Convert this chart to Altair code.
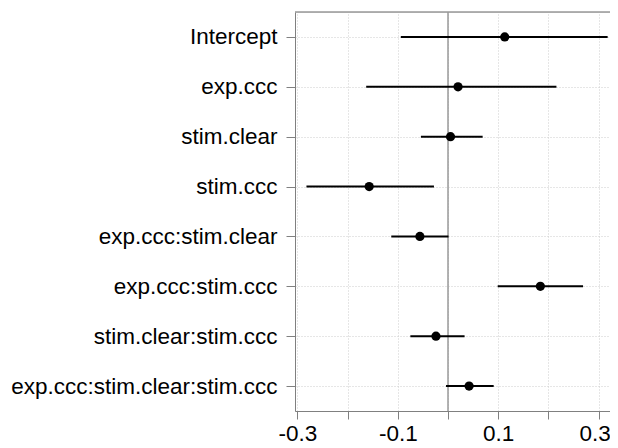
import altair as alt
import pandas as pd

terms = ["Intercept", "exp.ccc", "stim.clear", "stim.ccc", "exp.ccc:stim.clear",
         "exp.ccc:stim.ccc", "stim.clear:stim.ccc", "exp.ccc:stim.clear:stim.ccc"]
estimate = [0.113, 0.020, 0.005, -0.157, -0.056, 0.184, -0.024, 0.042]
lower = [-0.094, -0.163, -0.054, -0.282, -0.113, 0.099, -0.075, -0.004]
upper = [0.318, 0.216, 0.069, -0.028, 0.001, 0.269, 0.033, 0.091]
tick_values = [-0.3, -0.2, -0.1, 0.0, 0.1, 0.2, 0.3]

df = pd.DataFrame({"term": terms, "est": estimate, "lo": lower, "hi": upper})

W, H = 315, 399
xscale = alt.Scale(domain=[-0.3048, 0.3227], nice=False, zero=False)
yscale = alt.Scale(type="point", domain=terms, padding=0.5)

label_expr = ("abs(round(datum.value*10)) % 2 == 1 ? "
              "(datum.value < 0 ? '-' : '') + format(abs(datum.value), '.1f') : ''")

x_axis = alt.Axis(values=tick_values, labelExpr=label_expr, title=None, grid=True,
                  gridDash=[1, 2], gridColor="#cccccc", domainColor="#808080",
                  tickColor="#808080", tickSize=8, labelFontSize=22.5, labelColor="black",
                  labelPadding=21, labelFlush=False, labelBaseline="alphabetic",
                  labelOverlap=False,
                  labelOffset={"condition": {"test": "datum.value > 0.25", "value": -4},
                               "value": 0})
y_axis = alt.Axis(title=None, grid=True, gridDash=[1, 2], gridColor="#cccccc",
                  domainColor="#808080", tickColor="#808080", tickSize=9,
                  labelFontSize=22.5, labelColor="black", labelPadding=9,
                  labelLimit=500)

base = alt.Chart(df)

zero = alt.Chart(pd.DataFrame({"z": [0.0]})).mark_rule(color="#999999", strokeWidth=1.5).encode(
    x=alt.X("z:Q", scale=xscale, axis=x_axis)
)
top = alt.Chart(pd.DataFrame({"z": [0.0]})).mark_rule(color="#999999", strokeWidth=1.5).encode(
    x=alt.value(0), x2=alt.value(W), y=alt.value(0)
)
bars = base.mark_rule(color="black", strokeWidth=2).encode(
    x=alt.X("lo:Q", scale=xscale, axis=x_axis),
    x2="hi:Q",
    y=alt.Y("term:N", scale=yscale, axis=y_axis, sort=terms),
)
pts = base.mark_circle(color="black", size=85, opacity=1).encode(
    x=alt.X("est:Q", scale=xscale),
    y=alt.Y("term:N", scale=yscale, sort=terms),
)

chart = alt.layer(zero, top, bars, pts).properties(
    width=W, height=H,
    autosize=alt.AutoSizeParams(type="none"),
    padding={"left": 287, "top": 4, "right": 0, "bottom": 34},
).configure_view(stroke=None).configure(font="Liberation Sans", background="white")

chart.save("out.html", embed_options={"renderer": "svg", "actions": False})
